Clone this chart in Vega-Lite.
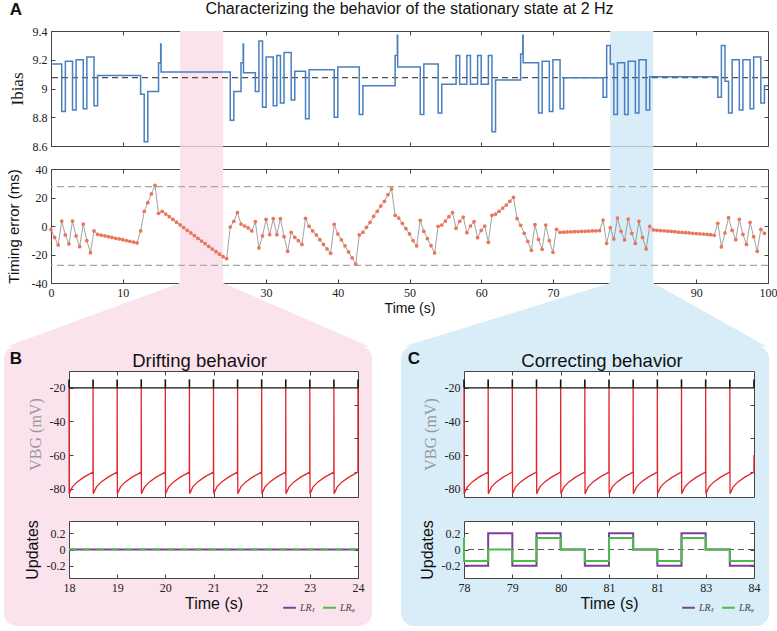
{
"$schema": "https://vega.github.io/schema/vega-lite/v6.json",
"background": "white",
"padding": {"left": 3, "top": 0, "right": 5, "bottom": 2},
"config": {
  "locale": {"number": {"decimal": ".", "thousands": ",", "grouping": [3], "currency": ["$", ""], "minus": "-"}},
  "view": {"stroke": "#444", "strokeWidth": 1},
  "axis": {"grid": false, "domain": false, "ticks": true, "tickSize": -4, "tickColor": "#444", "tickWidth": 1, "labelFont": "Liberation Serif", "labelFontSize": 12, "labelColor": "#222", "labelPadding": 8, "labelFlush": false, "labelOverlap": false, "titleFont": "Liberation Sans", "titleFontWeight": "normal", "titleFontSize": 14, "titleColor": "#111", "zindex": 1},
  "title": {"font": "Liberation Sans", "fontWeight": "normal", "color": "#111"}
},
"datasets": {
  "err": [
    {"t":0,"e":-2.6},{"t":0.5,"e":-8},{"t":1,"e":-13.3},{"t":1.5,"e":3.5},{"t":2,"e":-6.3},{"t":2.5,"e":-12.6},{"t":3,"e":3.5},{"t":3.5,"e":-7},{"t":4,"e":-14.5},{"t":4.5,"e":1.4},{"t":5,"e":-10.3},{"t":5.5,"e":-18.7},{"t":6,"e":-3.5},
    {"t":6.5,"e":-5.8},{"t":7,"e":-6.4},{"t":7.5,"e":-6.9},{"t":8,"e":-7.5},{"t":8.5,"e":-8},{"t":9,"e":-8.6},{"t":9.5,"e":-9.1},{"t":10,"e":-9.6},{"t":10.5,"e":-10.2},{"t":11,"e":-10.7},{"t":11.5,"e":-11.3},{"t":12,"e":-11.9},
    {"t":12.5,"e":-3.5},{"t":13,"e":10.3},{"t":13.5,"e":16.4},{"t":14,"e":22.5},{"t":14.5,"e":28.5},{"t":15,"e":8.9},{"t":15.5,"e":10.3},
    {"t":16,"e":8.4},{"t":16.5,"e":6.5},{"t":17,"e":4.6},{"t":17.5,"e":2.7},{"t":18,"e":0.8},{"t":18.5,"e":-1.1},{"t":19,"e":-3.0},{"t":19.5,"e":-4.9},{"t":20,"e":-6.8},{"t":20.5,"e":-8.7},{"t":21,"e":-10.6},{"t":21.5,"e":-12.4},{"t":22,"e":-14.3},{"t":22.5,"e":-16.2},{"t":23,"e":-18.0},{"t":23.5,"e":-19.8},{"t":24,"e":-21.5},{"t":24.5,"e":-22.9},
    {"t":25,"e":-0.7},{"t":25.5,"e":3.3},{"t":26,"e":9.4},{"t":26.5,"e":1.4},{"t":27,"e":0},{"t":27.5,"e":-1.4},{"t":28,"e":-3.5},{"t":28.5,"e":3},{"t":29,"e":-15.4},{"t":29.5,"e":-7},{"t":30,"e":4.7},{"t":30.5,"e":-6.1},{"t":31,"e":5.1},{"t":31.5,"e":-6.1},{"t":32,"e":5.1},{"t":32.5,"e":-7.5},{"t":33,"e":-17.8},{"t":33.5,"e":-4.4},{"t":34,"e":-8},{"t":34.5,"e":-10.3},{"t":35,"e":-12.9},{"t":35.5,"e":5.4},
    {"t":36,"e":-0.2},{"t":36.5,"e":-3.5},{"t":37,"e":-6.3},{"t":37.5,"e":-9.6},{"t":38,"e":-12.9},{"t":38.5,"e":-16.1},{"t":39,"e":-19.2},{"t":39.5,"e":1.2},{"t":40,"e":-5.6},{"t":40.5,"e":-9.8},{"t":41,"e":-13.9},{"t":41.5,"e":-18.2},{"t":42,"e":-22.4},{"t":42.5,"e":-26.7},
    {"t":43,"e":-6.3},{"t":43.5,"e":-4.4},{"t":44,"e":-0.9},{"t":44.5,"e":2.6},{"t":45,"e":6.8},{"t":45.5,"e":10.3},{"t":46,"e":14},{"t":46.5,"e":17.3},{"t":47,"e":22},{"t":47.5,"e":26},
    {"t":48,"e":7.5},{"t":48.5,"e":5.6},{"t":49,"e":1.9},{"t":49.5,"e":-1.9},{"t":50,"e":-5.6},{"t":50.5,"e":-10.3},{"t":51,"e":-14},{"t":51.5,"e":4},{"t":52,"e":-3.7},{"t":52.5,"e":-8.9},{"t":53,"e":-13.8},{"t":53.5,"e":-18.9},
    {"t":54,"e":-0.2},{"t":54.5,"e":0.7},{"t":55,"e":3.5},{"t":55.5,"e":6.5},{"t":56,"e":9.4},{"t":56.5,"e":-1.6},{"t":57,"e":3.3},{"t":57.5,"e":6.3},{"t":58,"e":-4.7},{"t":58.5,"e":0},{"t":59,"e":3},{"t":59.5,"e":-8.2},{"t":60,"e":-3},{"t":60.5,"e":0},{"t":61,"e":-11.5},
    {"t":61.5,"e":7.5},{"t":62,"e":8.4},{"t":62.5,"e":10.3},{"t":63,"e":12.6},{"t":63.5,"e":14.7},{"t":64,"e":17.3},{"t":64.5,"e":20.1},{"t":65,"e":5.1},{"t":65.5,"e":0.5},{"t":66,"e":-5.1},{"t":66.5,"e":-10.8},{"t":67,"e":-17.1},
    {"t":67.5,"e":0.9},{"t":68,"e":-9.4},{"t":68.5,"e":-16.4},{"t":69,"e":0.7},{"t":69.5,"e":-10.3},{"t":70,"e":-18.5},{"t":70.5,"e":-2.3},
    {"t":71,"e":-4.4},{"t":71.5,"e":-4.3},{"t":72,"e":-4.2},{"t":72.5,"e":-4.1},{"t":73,"e":-4.0},{"t":73.5,"e":-3.9},{"t":74,"e":-3.8},{"t":74.5,"e":-3.7},{"t":75,"e":-3.6},{"t":75.5,"e":-3.5},{"t":76,"e":-3.4},{"t":76.5,"e":-3.3},
    {"t":77,"e":4.2},{"t":77.5,"e":-12.2},{"t":78,"e":-1.2},{"t":78.5,"e":-9.1},{"t":79,"e":5.6},{"t":79.5,"e":-3.7},{"t":80,"e":-9.8},{"t":80.5,"e":4.9},{"t":81,"e":-5.1},{"t":81.5,"e":-12.2},{"t":82,"e":3.3},{"t":82.5,"e":-8},{"t":83,"e":-16.1},{"t":83.5,"e":-0.2},
    {"t":84,"e":-2.8},{"t":84.5,"e":-3.0},{"t":85,"e":-3.2},{"t":85.5,"e":-3.4},{"t":86,"e":-3.6},{"t":86.5,"e":-3.8},{"t":87,"e":-4.0},{"t":87.5,"e":-4.3},{"t":88,"e":-4.5},{"t":88.5,"e":-4.7},{"t":89,"e":-4.9},{"t":89.5,"e":-5.1},{"t":90,"e":-5.3},{"t":90.5,"e":-5.5},{"t":91,"e":-5.7},{"t":91.5,"e":-5.9},{"t":92,"e":-6.1},{"t":92.5,"e":-6.5},
    {"t":93,"e":1.9},{"t":93.5,"e":-14.7},{"t":94,"e":-4.9},{"t":94.5,"e":5.8},{"t":95,"e":-3},{"t":95.5,"e":-9.6},{"t":96,"e":4.7},{"t":96.5,"e":-5.8},{"t":97,"e":-12.9},{"t":97.5,"e":2.6},{"t":98,"e":-7.5},{"t":98.5,"e":-17.8},{"t":99,"e":-2.3},{"t":99.5,"e":-5.1}
  ],
  "ibias": [
    {"t":0,"v":9.17},{"t":1.5,"v":8.84},{"t":2,"v":9.19},{"t":3,"v":8.85},{"t":3.5,"v":9.2},{"t":4.5,"v":8.86},{"t":5,"v":9.22},{"t":6,"v":8.88},{"t":6.5,"v":9.09},{"t":12.5,"v":8.96},{"t":13,"v":8.63},{"t":13.5,"v":8.98},{"t":15,"v":9.18},{"t":15.3,"v":9.31},{"t":15.35,"v":9.115},
    {"t":25,"v":8.78},{"t":25.5,"v":8.98},{"t":26.5,"v":9.18},{"t":26.8,"v":9.31},{"t":26.85,"v":9.11},{"t":28.5,"v":8.98},{"t":29,"v":9.33},{"t":29.5,"v":8.87},{"t":30,"v":9.22},{"t":31,"v":8.88},{"t":31.5,"v":9.23},{"t":32,"v":8.9},{"t":32.5,"v":9.25},{"t":33.5,"v":8.92},{"t":34,"v":9.12},{"t":35.5,"v":8.79},{"t":36,"v":9.13},{"t":39.5,"v":8.8},{"t":40,"v":9.15},{"t":43,"v":8.82},{"t":43.5,"v":9.02},
    {"t":48,"v":9.23},{"t":48.3,"v":9.37},{"t":48.35,"v":9.15},{"t":51.5,"v":8.82},{"t":52,"v":9.17},{"t":54,"v":8.83},{"t":54.5,"v":9.03},{"t":56.5,"v":9.23},{"t":57,"v":9.03},{"t":58,"v":9.23},{"t":58.5,"v":9.03},{"t":59.5,"v":9.23},{"t":60,"v":9.03},{"t":61,"v":9.23},{"t":61.5,"v":8.7},{"t":62,"v":9.06},
    {"t":65.5,"v":9.24},{"t":65.8,"v":9.37},{"t":65.85,"v":9.18},{"t":68,"v":8.83},{"t":68.5,"v":9.19},{"t":69.5,"v":8.84},{"t":70,"v":9.2},{"t":71,"v":8.86},{"t":71.5,"v":9.075},{"t":77,"v":8.94},{"t":77.5,"v":9.3},{"t":78,"v":9.17},{"t":78.5,"v":8.82},{"t":79,"v":9.18},{"t":80,"v":8.82},{"t":80.5,"v":9.19},{"t":81.5,"v":8.83},{"t":82,"v":9.2},{"t":83,"v":8.85},{"t":83.5,"v":9.082},
    {"t":93,"v":8.94},{"t":93.5,"v":9.3},{"t":94,"v":9.05},{"t":94.5,"v":8.83},{"t":95,"v":9.2},{"t":96,"v":8.85},{"t":96.5,"v":9.2},{"t":97.5,"v":8.86},{"t":98,"v":9.22},{"t":99,"v":8.9},{"t":99.5,"v":9.02},{"t":100,"v":9.02}
  ],
  "thr": [{"e": 27.7}, {"e": -27.7}],
  "connB": [{"y": -40, "x": 18, "x2": 24}, {"y": -84.5, "x": -6.2, "x2": 44.4}],
  "connC": [{"y": -40, "x": 78, "x2": 84}, {"y": -84.5, "x": 49.2, "x2": 99.8}],
  "letters": [{"k": "A", "t": -4.9, "e": 151.6}, {"k": "B", "t": -4.9, "e": -93.3}, {"k": "C", "t": 50.6, "e": -93.3}],
  "vB": [
    {"t":18,"v":-20},{"t":18.004,"v":-83},{"t":18.07,"v":-79},{"t":18.17,"v":-76},{"t":18.31,"v":-73.2},{"t":18.498,"v":-70.2},
    {"t":18.5,"v":-20},{"t":18.504,"v":-83},{"t":18.57,"v":-79},{"t":18.67,"v":-76},{"t":18.81,"v":-73.2},{"t":18.998,"v":-70.2},
    {"t":19,"v":-20},{"t":19.004,"v":-83},{"t":19.07,"v":-79},{"t":19.17,"v":-76},{"t":19.31,"v":-73.2},{"t":19.498,"v":-70.2},
    {"t":19.5,"v":-20},{"t":19.504,"v":-83},{"t":19.57,"v":-79},{"t":19.67,"v":-76},{"t":19.81,"v":-73.2},{"t":19.998,"v":-70.2},
    {"t":20,"v":-20},{"t":20.004,"v":-83},{"t":20.07,"v":-79},{"t":20.17,"v":-76},{"t":20.31,"v":-73.2},{"t":20.498,"v":-70.2},
    {"t":20.5,"v":-20},{"t":20.504,"v":-83},{"t":20.57,"v":-79},{"t":20.67,"v":-76},{"t":20.81,"v":-73.2},{"t":20.998,"v":-70.2},
    {"t":21,"v":-20},{"t":21.004,"v":-83},{"t":21.07,"v":-79},{"t":21.17,"v":-76},{"t":21.31,"v":-73.2},{"t":21.498,"v":-70.2},
    {"t":21.5,"v":-20},{"t":21.504,"v":-83},{"t":21.57,"v":-79},{"t":21.67,"v":-76},{"t":21.81,"v":-73.2},{"t":21.998,"v":-70.2},
    {"t":22,"v":-20},{"t":22.004,"v":-83},{"t":22.07,"v":-79},{"t":22.17,"v":-76},{"t":22.31,"v":-73.2},{"t":22.498,"v":-70.2},
    {"t":22.5,"v":-20},{"t":22.504,"v":-83},{"t":22.57,"v":-79},{"t":22.67,"v":-76},{"t":22.81,"v":-73.2},{"t":22.998,"v":-70.2},
    {"t":23,"v":-20},{"t":23.004,"v":-83},{"t":23.07,"v":-79},{"t":23.17,"v":-76},{"t":23.31,"v":-73.2},{"t":23.498,"v":-70.2},
    {"t":23.5,"v":-20},{"t":23.504,"v":-83},{"t":23.57,"v":-79},{"t":23.67,"v":-76},{"t":23.81,"v":-73.2},{"t":23.998,"v":-70.2},
    {"t":24,"v":-20}
  ],
  "vC": [
    {"t":78,"v":-20},{"t":78.004,"v":-83},{"t":78.07,"v":-79},{"t":78.17,"v":-76},{"t":78.31,"v":-73.2},{"t":78.498,"v":-70.2},
    {"t":78.5,"v":-20},{"t":78.504,"v":-83},{"t":78.57,"v":-79},{"t":78.67,"v":-76},{"t":78.81,"v":-73.2},{"t":78.998,"v":-70.2},
    {"t":79,"v":-20},{"t":79.004,"v":-83},{"t":79.07,"v":-79},{"t":79.17,"v":-76},{"t":79.31,"v":-73.2},{"t":79.498,"v":-70.2},
    {"t":79.5,"v":-20},{"t":79.504,"v":-83},{"t":79.57,"v":-79},{"t":79.67,"v":-76},{"t":79.81,"v":-73.2},{"t":79.998,"v":-70.2},
    {"t":80,"v":-20},{"t":80.004,"v":-83},{"t":80.07,"v":-79},{"t":80.17,"v":-76},{"t":80.31,"v":-73.2},{"t":80.498,"v":-70.2},
    {"t":80.5,"v":-20},{"t":80.504,"v":-83},{"t":80.57,"v":-79},{"t":80.67,"v":-76},{"t":80.81,"v":-73.2},{"t":80.998,"v":-70.2},
    {"t":81,"v":-20},{"t":81.004,"v":-83},{"t":81.07,"v":-79},{"t":81.17,"v":-76},{"t":81.31,"v":-73.2},{"t":81.498,"v":-70.2},
    {"t":81.5,"v":-20},{"t":81.504,"v":-83},{"t":81.57,"v":-79},{"t":81.67,"v":-76},{"t":81.81,"v":-73.2},{"t":81.998,"v":-70.2},
    {"t":82,"v":-20},{"t":82.004,"v":-83},{"t":82.07,"v":-79},{"t":82.17,"v":-76},{"t":82.31,"v":-73.2},{"t":82.498,"v":-70.2},
    {"t":82.5,"v":-20},{"t":82.504,"v":-83},{"t":82.57,"v":-79},{"t":82.67,"v":-76},{"t":82.81,"v":-73.2},{"t":82.998,"v":-70.2},
    {"t":83,"v":-20},{"t":83.004,"v":-83},{"t":83.07,"v":-79},{"t":83.17,"v":-76},{"t":83.31,"v":-73.2},{"t":83.498,"v":-70.2},
    {"t":83.5,"v":-20},{"t":83.504,"v":-83},{"t":83.57,"v":-79},{"t":83.67,"v":-76},{"t":83.81,"v":-73.2},{"t":83.998,"v":-70.2},
    {"t":84,"v":-60}
  ],
  "spkB": [{"t":18},{"t":18.5},{"t":19},{"t":19.5},{"t":20},{"t":20.5},{"t":21},{"t":21.5},{"t":22},{"t":22.5},{"t":23},{"t":23.5},{"t":24}],
  "spkC": [{"t":78},{"t":78.5},{"t":79},{"t":79.5},{"t":80},{"t":80.5},{"t":81},{"t":81.5},{"t":82},{"t":82.5},{"t":83},{"t":83.5},{"t":84}],
  "updB": [{"t":18,"u":0,"s":"LRₜ"},{"t":24,"u":0,"s":"LRₜ"},{"t":18,"u":0,"s":"LRᵩ"},{"t":24,"u":0,"s":"LRᵩ"}],
  "updC": [
    {"t":78,"u":-0.2,"s":"LRₜ"},{"t":78.5,"u":0.2,"s":"LRₜ"},{"t":79,"u":-0.2,"s":"LRₜ"},{"t":79.5,"u":0.2,"s":"LRₜ"},{"t":80,"u":0,"s":"LRₜ"},{"t":80.5,"u":-0.2,"s":"LRₜ"},{"t":81,"u":0.2,"s":"LRₜ"},{"t":81.5,"u":0,"s":"LRₜ"},{"t":82,"u":-0.2,"s":"LRₜ"},{"t":82.5,"u":0.2,"s":"LRₜ"},{"t":83,"u":0,"s":"LRₜ"},{"t":83.5,"u":-0.2,"s":"LRₜ"},{"t":84,"u":-0.2,"s":"LRₜ"},
    {"t":77.99,"u":0.14,"s":"LRᵩ"},{"t":78,"u":-0.14,"s":"LRᵩ"},{"t":78.5,"u":0,"s":"LRᵩ"},{"t":79,"u":-0.14,"s":"LRᵩ"},{"t":79.5,"u":0.14,"s":"LRᵩ"},{"t":80,"u":0,"s":"LRᵩ"},{"t":80.5,"u":-0.14,"s":"LRᵩ"},{"t":81,"u":0.14,"s":"LRᵩ"},{"t":81.5,"u":0,"s":"LRᵩ"},{"t":82,"u":-0.14,"s":"LRᵩ"},{"t":82.5,"u":0.14,"s":"LRᵩ"},{"t":83,"u":0,"s":"LRᵩ"},{"t":83.5,"u":-0.14,"s":"LRᵩ"},{"t":84,"u":-0.14,"s":"LRᵩ"}
  ]
},
"bounds": "flush",
"spacing": 340,
"resolve": {"scale": {"color": "independent"}, "legend": {"color": "independent"}},
"vconcat": [
  {"bounds": "flush", "spacing": 23, "vconcat": [
    {
      "width": 717, "height": 115,
      "title": {"text": "Characterizing the behavior of the stationary state at 2 Hz", "fontSize": 16, "offset": 8},
      "resolve": {"axis": {"x": "independent", "y": "independent"}},
      "layer": [
        {"data": {"values": [{}]}, "mark": {"type": "rect", "color": "#fbe3ee"},
         "encoding": {
           "x": {"datum": 18, "type": "quantitative", "scale": {"domain": [0, 100], "nice": false, "zero": false}, "axis": {"orient": "bottom", "values": [0,10,20,30,40,50,60,70,80,90,100], "labels": false, "title": null}},
           "x2": {"datum": 24},
           "y": {"datum": 8.6, "type": "quantitative", "scale": {"domain": [8.6, 9.4], "nice": false, "zero": false}, "axis": {"orient": "left", "values": [8.6,8.8,9,9.2,9.4], "format": "~g", "title": "Ibias", "titleFont": "Liberation Serif", "titleFontSize": 17, "titlePadding": 6}},
           "y2": {"datum": 9.4}}},
        {"data": {"values": [{}]}, "mark": {"type": "rect", "color": "#d8edf8"},
         "encoding": {
           "x": {"datum": 78, "type": "quantitative", "axis": {"orient": "top", "values": [10,20,30,40,50,60,70,80,90], "labels": false, "labelPadding": 0, "title": null}},
           "x2": {"datum": 84},
           "y": {"datum": 8.6, "type": "quantitative", "axis": {"orient": "right", "values": [8.8,9,9.2], "labels": false, "labelPadding": 0, "title": null}},
           "y2": {"datum": 9.4}}},
        {"data": {"values": [{}]}, "mark": {"type": "rule", "color": "#222", "strokeDash": [6, 4], "strokeWidth": 1},
         "encoding": {"y": {"datum": 9.075, "type": "quantitative", "axis": null}}},
        {"data": {"name": "ibias"}, "mark": {"type": "line", "interpolate": "step-after", "color": "#4a7fbf", "strokeWidth": 1.5},
         "encoding": {"x": {"field": "t", "type": "quantitative", "axis": null}, "y": {"field": "v", "type": "quantitative", "axis": null}}}
      ]
    },
    {
      "width": 717, "height": 114,
      "resolve": {"axis": {"x": "independent", "y": "independent"}},
      "layer": [
        {"data": {"name": "connB"}, "mark": {"type": "area", "orient": "horizontal", "color": "#fbe3ee"},
         "encoding": {"y": {"field": "y", "type": "quantitative", "axis": null}, "x": {"field": "x", "type": "quantitative", "axis": null}, "x2": {"field": "x2"}}},
        {"data": {"name": "connC"}, "mark": {"type": "area", "orient": "horizontal", "color": "#d8edf8"},
         "encoding": {"y": {"field": "y", "type": "quantitative", "axis": null}, "x": {"field": "x", "type": "quantitative", "axis": null}, "x2": {"field": "x2"}}},
        {"data": {"values": [{}]}, "mark": {"type": "rect", "color": "#fbe3ee", "cornerRadius": 13},
         "encoding": {"x": {"datum": -6.555, "type": "quantitative", "axis": null}, "x2": {"datum": 44.77}, "y": {"datum": -84.2, "type": "quantitative", "axis": null}, "y2": {"datum": -280.7}}},
        {"data": {"values": [{}]}, "mark": {"type": "rect", "color": "#d8edf8", "cornerRadius": 13},
         "encoding": {"x": {"datum": 48.81, "type": "quantitative", "axis": null}, "x2": {"datum": 100.14}, "y": {"datum": -84.2, "type": "quantitative", "axis": null}, "y2": {"datum": -280.7}}},
        {"data": {"values": [{}]}, "mark": {"type": "rect", "color": "#fbe3ee"},
         "encoding": {
           "x": {"datum": 18, "type": "quantitative", "scale": {"domain": [0, 100], "nice": false, "zero": false}, "axis": {"orient": "bottom", "values": [0,10,20,30,40,50,60,70,80,90,100], "title": "Time (s)", "titlePadding": 3}},
           "x2": {"datum": 24},
           "y": {"datum": -40, "type": "quantitative", "scale": {"domain": [-40, 40], "nice": false, "zero": false}, "axis": {"orient": "left", "values": [-40,-20,0,20,40], "title": "Timing error (ms)", "titleFontSize": 15, "titlePadding": 10}},
           "y2": {"datum": 56}}},
        {"data": {"values": [{}]}, "mark": {"type": "rect", "color": "#d8edf8"},
         "encoding": {
           "x": {"datum": 78, "type": "quantitative", "axis": {"orient": "top", "values": [10,20,30,40,50,60,70,80,90], "labels": false, "labelPadding": 0, "title": null}},
           "x2": {"datum": 84},
           "y": {"datum": -40, "type": "quantitative", "axis": {"orient": "right", "values": [-20,0,20], "labels": false, "labelPadding": 0, "title": null}},
           "y2": {"datum": 56}}},
        {"data": {"name": "thr"}, "mark": {"type": "rule", "color": "#a8a8a8", "strokeDash": [7, 4], "strokeWidth": 1.3},
         "encoding": {"y": {"field": "e", "type": "quantitative", "axis": null}}},
        {"data": {"name": "err"}, "mark": {"type": "line", "color": "#8a8a8a", "strokeWidth": 0.8},
         "encoding": {"x": {"field": "t", "type": "quantitative", "axis": null}, "y": {"field": "e", "type": "quantitative", "axis": null}}},
        {"data": {"name": "err"}, "mark": {"type": "circle", "color": "#ee7458", "opacity": 1, "size": 14},
         "encoding": {"x": {"field": "t", "type": "quantitative", "axis": null}, "y": {"field": "e", "type": "quantitative", "axis": null}}},
        {"data": {"name": "letters"}, "mark": {"type": "text", "fontSize": 17, "fontWeight": "bold", "font": "Liberation Sans", "baseline": "middle", "color": "#111"},
         "encoding": {"text": {"field": "k"}, "x": {"field": "t", "type": "quantitative", "axis": null}, "y": {"field": "e", "type": "quantitative", "axis": null}}}
      ]
    }
  ]},
  {"bounds": "flush", "spacing": 17,
   "resolve": {"scale": {"color": "independent"}, "legend": {"color": "independent"}},
   "hconcat": [
    {"width": 1, "height": 1, "view": {"stroke": null}, "data": {"values": []}, "mark": "point"},
    {"bounds": "flush", "spacing": 395,
     "resolve": {"scale": {"color": "independent"}, "legend": {"color": "independent"}},
     "hconcat": [
      {"bounds": "flush", "spacing": 24, "vconcat": [
        {
          "width": 289, "height": 126,
          "view": {"fill": "white", "stroke": "#444"},
          "title": {"text": "Drifting behavior", "fontSize": 18.5, "offset": 0, "dx": -14},
          "resolve": {"axis": {"x": "independent", "y": "independent"}},
          "layer": [
            {"data": {"name": "vB"}, "mark": {"type": "line", "color": "#e3262b", "strokeWidth": 1.3},
             "encoding": {
               "x": {"field": "t", "type": "quantitative", "scale": {"domain": [18, 24], "nice": false, "zero": false}, "axis": {"orient": "bottom", "values": [19,20,21,22,23], "labels": false, "title": null}},
               "y": {"field": "v", "type": "quantitative", "scale": {"domain": [-85, -10], "nice": false, "zero": false}, "axis": {"orient": "left", "values": [-80,-60,-40,-20], "title": "VBG (mV)", "titleFont": "Liberation Serif", "titleColor": "#999", "titleFontSize": 16, "titlePadding": 6}}}},
            {"data": {"values": [{}]}, "mark": {"type": "rule", "color": "#111", "strokeWidth": 1.2},
             "encoding": {"y": {"datum": -20, "type": "quantitative", "axis": null}}},
            {"data": {"name": "spkB"}, "mark": {"type": "rule", "color": "#111", "strokeWidth": 1.6},
             "encoding": {
               "x": {"field": "t", "type": "quantitative", "axis": {"orient": "top", "values": [19,20,21,22,23], "labels": false, "labelPadding": 0, "title": null}},
               "y": {"datum": -20, "type": "quantitative", "axis": {"orient": "right", "values": [-70,-50,-30], "labels": false, "labelPadding": 0, "title": null}},
               "y2": {"datum": -15}}}
          ]
        },
        {
          "width": 289, "height": 57,
          "view": {"fill": "white", "stroke": "#444"},
          "resolve": {"axis": {"x": "independent", "y": "independent"}},
          "layer": [
            {"data": {"name": "updB"}, "transform": [{"filter": "datum.s == 'LRₜ'"}], "mark": {"type": "line", "interpolate": "step-after", "strokeWidth": 2},
             "encoding": {
               "x": {"field": "t", "type": "quantitative", "scale": {"domain": [18, 24], "nice": false, "zero": false}, "axis": {"orient": "bottom", "values": [18,19,20,21,22,23,24], "title": "Time (s)", "titleFontSize": 16, "titlePadding": 2}},
               "y": {"field": "u", "type": "quantitative", "scale": {"domain": [-0.35, 0.35], "nice": false, "zero": false}, "axis": {"orient": "left", "values": [-0.2, 0, 0.2], "format": "~g", "title": "Updates", "titleFontSize": 16, "titlePadding": 6}},
               "color": {"field": "s", "type": "nominal", "scale": {"domain": ["LRₜ", "LRᵩ"], "range": ["#7b3f9e", "#4cbb47"]},
                 "legend": {"orient": "none", "legendX": 213, "legendY": 229, "direction": "horizontal", "title": null, "symbolType": "stroke", "symbolSize": 160, "symbolStrokeWidth": 2, "labelFont": "Liberation Serif", "labelFontStyle": "italic", "labelFontSize": 10, "labelColor": "#444", "columnPadding": 5, "labelOffset": 3}}}},
            {"data": {"name": "updB"}, "transform": [{"filter": "datum.s == 'LRᵩ'"}], "mark": {"type": "line", "interpolate": "step-after", "strokeWidth": 2, "strokeDash": [7, 7]},
             "encoding": {
               "x": {"field": "t", "type": "quantitative", "axis": {"orient": "top", "values": [19,20,21,22,23], "labels": false, "labelPadding": 0, "title": null}},
               "y": {"field": "u", "type": "quantitative", "axis": {"orient": "right", "values": [-0.2, 0, 0.2], "labels": false, "labelPadding": 0, "title": null}},
               "color": {"field": "s", "type": "nominal"}}}
          ]
        }
      ]},
      {"bounds": "flush", "spacing": 24, "vconcat": [
        {
          "width": 290, "height": 126,
          "view": {"fill": "white", "stroke": "#444"},
          "title": {"text": "Correcting behavior", "fontSize": 18.5, "offset": 0, "dx": -7},
          "resolve": {"axis": {"x": "independent", "y": "independent"}},
          "layer": [
            {"data": {"name": "vC"}, "mark": {"type": "line", "color": "#e3262b", "strokeWidth": 1.3},
             "encoding": {
               "x": {"field": "t", "type": "quantitative", "scale": {"domain": [78, 84], "nice": false, "zero": false}, "axis": {"orient": "bottom", "values": [79,80,81,82,83], "labels": false, "title": null}},
               "y": {"field": "v", "type": "quantitative", "scale": {"domain": [-85, -10], "nice": false, "zero": false}, "axis": {"orient": "left", "values": [-80,-60,-40,-20], "title": "VBG (mV)", "titleFont": "Liberation Serif", "titleColor": "#999", "titleFontSize": 16, "titlePadding": 6}}}},
            {"data": {"values": [{}]}, "mark": {"type": "rule", "color": "#111", "strokeWidth": 1.2},
             "encoding": {"y": {"datum": -20, "type": "quantitative", "axis": null}}},
            {"data": {"name": "spkC"}, "mark": {"type": "rule", "color": "#111", "strokeWidth": 1.6},
             "encoding": {
               "x": {"field": "t", "type": "quantitative", "axis": {"orient": "top", "values": [79,80,81,82,83], "labels": false, "labelPadding": 0, "title": null}},
               "y": {"datum": -20, "type": "quantitative", "axis": {"orient": "right", "values": [-70,-50,-30], "labels": false, "labelPadding": 0, "title": null}},
               "y2": {"datum": -15}}}
          ]
        },
        {
          "width": 290, "height": 57,
          "view": {"fill": "white", "stroke": "#444"},
          "resolve": {"axis": {"x": "independent", "y": "independent"}},
          "layer": [
            {"data": {"values": [{}]}, "mark": {"type": "rule", "color": "#555", "strokeDash": [6, 4], "strokeWidth": 1},
             "encoding": {"y": {"datum": 0, "type": "quantitative", "axis": null}}},
            {"data": {"name": "updC"}, "transform": [{"filter": "datum.s == 'LRₜ'"}], "mark": {"type": "line", "interpolate": "step-after", "strokeWidth": 2},
             "encoding": {
               "x": {"field": "t", "type": "quantitative", "scale": {"domain": [78, 84], "nice": false, "zero": false}, "axis": {"orient": "bottom", "values": [78,79,80,81,82,83,84], "labelExpr": "datum.value == 82 ? '81' : datum.label", "title": "Time (s)", "titleFontSize": 16, "titlePadding": 2}},
               "y": {"field": "u", "type": "quantitative", "scale": {"domain": [-0.35, 0.35], "nice": false, "zero": false}, "axis": {"orient": "left", "values": [-0.2, 0, 0.2], "format": "~g", "title": "Updates", "titleFontSize": 16, "titlePadding": 6}},
               "color": {"field": "s", "type": "nominal", "scale": {"domain": ["LRₜ", "LRᵩ"], "range": ["#7b3f9e", "#4cbb47"]},
                 "legend": {"orient": "none", "legendX": 217, "legendY": 229, "direction": "horizontal", "title": null, "symbolType": "stroke", "symbolSize": 160, "symbolStrokeWidth": 2, "labelFont": "Liberation Serif", "labelFontStyle": "italic", "labelFontSize": 10, "labelColor": "#444", "columnPadding": 5, "labelOffset": 3}}}},
            {"data": {"name": "updC"}, "transform": [{"filter": "datum.s == 'LRᵩ'"}], "mark": {"type": "line", "interpolate": "step-after", "strokeWidth": 2},
             "encoding": {
               "x": {"field": "t", "type": "quantitative", "axis": {"orient": "top", "values": [79,80,81,82,83], "labels": false, "labelPadding": 0, "title": null}},
               "y": {"field": "u", "type": "quantitative", "axis": {"orient": "right", "values": [-0.2, 0, 0.2], "labels": false, "labelPadding": 0, "title": null}},
               "color": {"field": "s", "type": "nominal"}}}
          ]
        }
      ]}
    ]}
  ]}
]
}
